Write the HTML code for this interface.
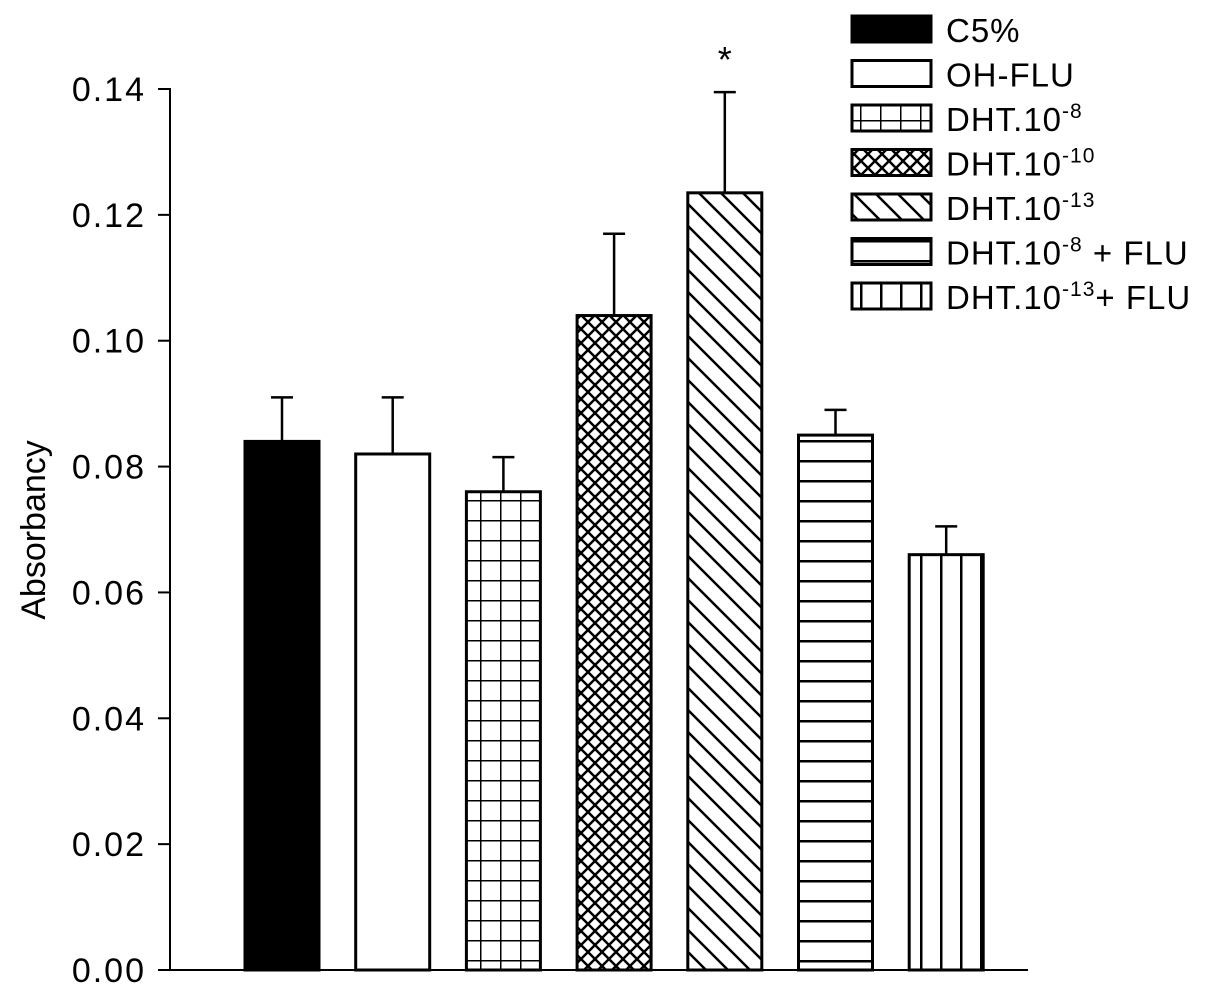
<!DOCTYPE html>
<html><head><meta charset="utf-8"><style>body{margin:0;background:#fff}svg{display:block;font-family:"Liberation Sans",Arial,sans-serif}</style></head>
<body>
<svg id="chart" width="1205" height="990" viewBox="0 0 1205 990" xmlns="http://www.w3.org/2000/svg">
<defs>
<pattern id="p-grid" patternUnits="userSpaceOnUse" width="20" height="20"><rect width="20" height="20" fill="#fff"/><path d="M0 0H20M0 0V20" stroke="#000" stroke-width="3"/></pattern>
<pattern id="p-cross" patternUnits="userSpaceOnUse" width="14" height="14"><rect width="14" height="14" fill="#fff"/><path d="M0 0L14 14M14 0L0 14" stroke="#000" stroke-width="2.5"/></pattern>
<pattern id="p-diag" patternUnits="userSpaceOnUse" width="22" height="22"><rect width="22" height="22" fill="#fff"/><path d="M0 0L22 22M-11 11L11 33M11 -11L33 11" stroke="#000" stroke-width="2.5"/></pattern>
<pattern id="p-horiz" patternUnits="userSpaceOnUse" width="20" height="20"><rect width="20" height="20" fill="#fff"/><path d="M0 1H20" stroke="#000" stroke-width="3"/></pattern>
<pattern id="p-vert" patternUnits="userSpaceOnUse" width="20" height="20"><rect width="20" height="20" fill="#fff"/><path d="M1 0V20" stroke="#000" stroke-width="3"/></pattern>
</defs>
<g id="plot"></g>
</svg>
<script>
const categories=["C5%","OH-FLU","DHT.10-8","DHT.10-10","DHT.10-13","DHT.10-8 + FLU","DHT.10-13+ FLU"];
const values=[0.084,0.082,0.076,0.104,0.1235,0.085,0.066];
const errors=[0.007,0.009,0.0055,0.013,0.016,0.004,0.0045];
const yTicks=[0,0.02,0.04,0.06,0.08,0.10,0.12,0.14];
const yTickLabels=["0.00","0.02","0.04","0.06","0.08","0.10","0.12","0.14"];
const fills=["#000","#fff","url(#p-grid)","url(#p-cross)","url(#p-diag)","url(#p-horiz)","url(#p-vert)"];
const sup=["","","-8","-10","-13","-8","-13"];
const base=["C5%","OH-FLU","DHT.10","DHT.10","DHT.10","DHT.10","DHT.10"];
const NS="http://www.w3.org/2000/svg";
const g=document.getElementById('plot');
const y0=970,yPerUnit=(970-89)/0.14;
function y(v){return y0-v*yPerUnit;}
function x(i){return 245+i*110.7;}
const bw=74;
function mk(t,a,p){const e=document.createElementNS(NS,t);for(const k in a)e.setAttribute(k,a[k]);(p||g).appendChild(e);return e;}
let e=mk('line',{x1:170,y1:88,x2:170,y2:971,stroke:'#000','stroke-width':2});


e=mk('line',{x1:169,y1:970,x2:1028,y2:970,stroke:'#000','stroke-width':2});


yTicks.forEach((t,i)=>{
 let l=mk('line',{x1:158,y1:y(t),x2:170,y2:y(t),stroke:'#000','stroke-width':2});
 
 
 let tx=mk('text',{x:146,y:y(t)+12,'text-anchor':'end','font-size':34,'letter-spacing':2});
 tx.textContent=yTickLabels[i];
 
 
});
e=mk('text',{x:0,y:0,'font-size':34,'text-anchor':'middle',transform:'translate(45,530) rotate(-90)'});
e.textContent='Absorbancy';


values.forEach((v,i)=>{
 const cx=x(i)+bw/2;
 let el=mk('line',{x1:cx,y1:y(v),x2:cx,y2:y(v+errors[i]),stroke:'#000','stroke-width':2.5});
 
 
 el=mk('line',{x1:cx-11,y1:y(v+errors[i]),x2:cx+11,y2:y(v+errors[i]),stroke:'#000','stroke-width':2.5});
 
 
 el=mk('rect',{x:x(i),y:y(v),width:bw,height:y0-y(v),fill:fills[i],stroke:'#000','stroke-width':3});
 
 
});
e=mk('text',{x:x(4)+bw/2,y:y(values[4]+errors[4])-20,'text-anchor':'middle','font-size':36});
e.textContent='*';


categories.forEach((c,i)=>{
 const ly=16+i*44.5;
 let r=mk('rect',{x:852,y:ly,width:79,height:26,fill:fills[i],stroke:'#000','stroke-width':3});
 
 
 let t=mk('text',{x:946,y:ly+26,'font-size':33,'letter-spacing':1});
 
 
 t.appendChild(document.createTextNode(base[i]));
 if(sup[i]){let s=mk('tspan',{dy:-13,'font-size':21},t);s.textContent=sup[i];
  let s2=mk('tspan',{dy:13},t);s2.textContent=i==5?' + FLU':(i==6?'+ FLU':'');}
});
</script>
</body></html>
